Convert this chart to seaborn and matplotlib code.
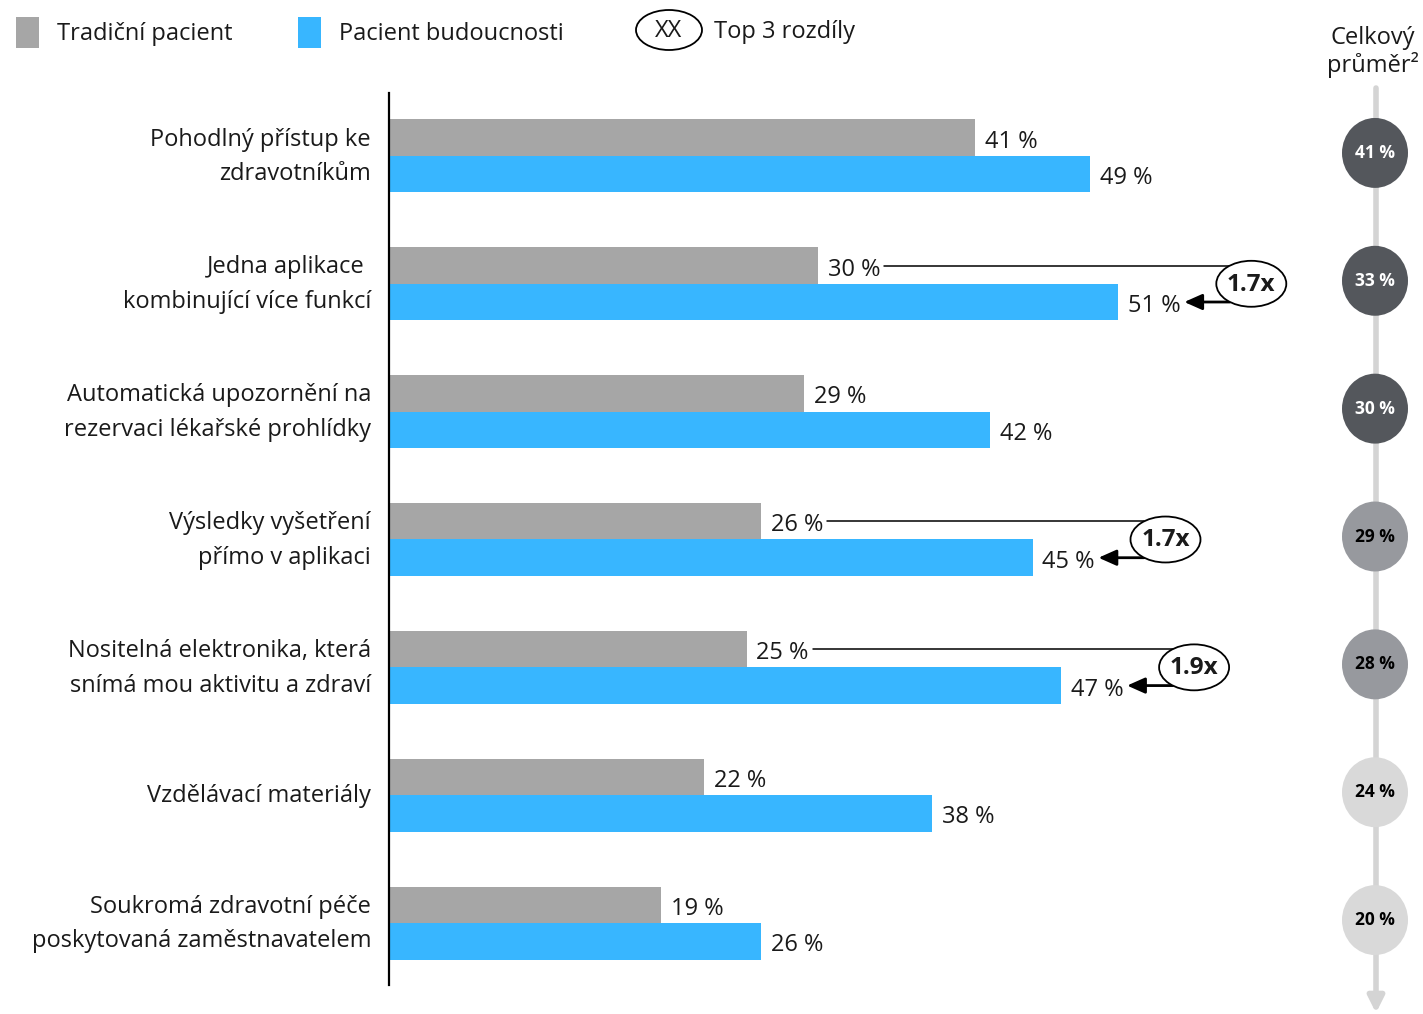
import matplotlib
matplotlib.use("Agg")
import matplotlib.pyplot as plt
from matplotlib.patches import Ellipse, Rectangle
import seaborn as sns
import pandas as pd
import numpy as np

# ---------------- data ----------------
categories = [
    "Pohodlný přístup ke\nzdravotníkům",
    "Jedna aplikace \nkombinující více funkcí",
    "Automatická upozornění na\nrezervaci lékařské prohlídky",
    "Výsledky vyšetření\npřímo v aplikaci",
    "Nositelná elektronika, která\nsnímá mou aktivitu a zdraví",
    "Vzdělávací materiály",
    "Soukromá zdravotní péče\nposkytovaná zaměstnavatelem",
]
traditional = [41, 30, 29, 26, 25, 22, 19]
future = [49, 51, 42, 45, 47, 38, 26]
overall = [41, 33, 30, 29, 28, 24, 20]
top_idx = [1, 3, 4]
top_labels = ["1.7x", "1.7x", "1.9x"]
series_names = ["Tradiční pacient", "Pacient budoucnosti"]
legend_top = "Top 3 rozdíly"
overall_title = ["Celkový", "průměr²"]

# ---------------- style ----------------
W, H = 1423, 1014
GRAY = "#a6a6a6"
BLUE = "#38b6ff"
TXT = "#1a1a1a"
FONT = ["Open Sans", "DejaVu Sans"]
FS = 17

sns.set_theme(style="white")
plt.rcParams["font.family"] = FONT
plt.rcParams["text.color"] = TXT

fig = plt.figure(figsize=(W / 100, H / 100), dpi=100)

def fx(px):
    return px / W

def fy(py):
    return 1 - py / H

ax_left, ax_right, ax_top, ax_bot = 389, 1423, 93, 985
ax = fig.add_axes([fx(ax_left), fy(ax_bot), fx(ax_right - ax_left), (ax_bot - ax_top) / H])

df = pd.DataFrame({
    "category": categories * 2,
    "group": [series_names[0]] * len(categories) + [series_names[1]] * len(categories),
    "value": traditional + future,
})
sns.barplot(data=df, y="category", x="value", hue="group", orient="h",
            palette=[GRAY, BLUE], width=0.57, saturation=1, linewidth=0,
            legend=False, ax=ax)

px_per_unit = 14.3
xmax = (ax_right - ax_left) / px_per_unit
ax.set_xlim(0, xmax)
row_px = 128
ax.set_ylim(len(categories) - 1 + (ax_bot - 923) / row_px, -(156 - ax_top) / row_px)

ux = 1 / px_per_unit          # data units per pixel (x)
uy = 1 / row_px               # data units per pixel (y)
half = 0.57 / 4

for s in ["top", "right", "bottom"]:
    ax.spines[s].set_visible(False)
ax.spines["left"].set_color("black")
ax.spines["left"].set_linewidth(1.6)
ax.set_xticks([])
ax.set_xlabel("")
ax.set_ylabel("")
ax.set_yticks([])

# category labels
for i, c in enumerate(categories):
    ax.text(-18 * ux, i + 1 * uy, c, ha="right", va="center", fontsize=FS, linespacing=1.6,
            color=TXT, multialignment="right")

# value labels
for i, (t, f) in enumerate(zip(traditional, future)):
    ax.text(t + 10 * ux, i - half + 4 * uy, f"{t} %", va="center", ha="left", fontsize=FS, color=TXT)
    ax.text(f + 10 * ux, i + half + 4 * uy, f"{f} %", va="center", ha="left", fontsize=FS, color=TXT)

# top-3 annotations
ew, eh = 70 * ux, 46 * uy
for i, lab in zip(top_idx, top_labels):
    t, f = traditional[i], future[i]
    cx = f + 133 * ux
    cy = i
    ax.add_patch(Ellipse((cx, cy), ew, eh, facecolor="white", edgecolor="black", lw=1.3, zorder=5))
    ax.text(cx, cy + 1 * uy, lab, ha="center", va="center", fontsize=17.5, fontweight="bold", zorder=6)
    dy = -half
    xoff = (ew / 2) * np.sqrt(max(0, 1 - (dy / (eh / 2)) ** 2))
    ax.plot([t + 66 * ux, cx - xoff], [i - half, i - half], color="black", lw=1.1, zorder=4)
    dy2 = half
    xoff2 = (ew / 2) * np.sqrt(max(0, 1 - (dy2 / (eh / 2)) ** 2))
    ax.annotate("", xy=(f + 66 * ux, i + half), xytext=(cx - xoff2, i + half),
                arrowprops=dict(arrowstyle="-|>,head_length=0.9,head_width=0.4", color="black", lw=2,
                                shrinkA=0, shrinkB=0), zorder=4)

# overall average column
ox = (1375 - ax_left) * ux
ax.annotate("", xy=(fx(1376), fy(1013)), xytext=(fx(1376), fy(88)), xycoords=fig.transFigure,
            textcoords=fig.transFigure,
            arrowprops=dict(arrowstyle="-|>,head_length=0.8,head_width=0.4", color="#d4d4d4", lw=4,
                            shrinkA=0, shrinkB=0), zorder=1)
for i, v in enumerate(overall):
    if v >= 30:
        fc, tc = "#54575c", "white"
    elif v >= 25:
        fc, tc = "#97999e", "black"
    else:
        fc, tc = "#d9d9d9", "black"
    ax.add_patch(Ellipse((ox, i - 3 * uy), 66 * ux, 70 * uy, facecolor=fc, edgecolor="none", zorder=3, clip_on=False))
    ax.text(ox, i - 3 * uy, f"{v} %", ha="center", va="center", fontsize=12.5, fontweight="bold", color=tc, zorder=4)

fig.text(fx(1373), fy(38), overall_title[0], ha="center", va="center", fontsize=FS)
fig.text(fx(1373), fy(65), overall_title[1], ha="center", va="center", fontsize=FS)

# legend
fig.patches.append(Rectangle((fx(16), fy(48)), fx(23), 31 / H, transform=fig.transFigure, facecolor=GRAY, edgecolor="none"))
fig.text(fx(57), fy(34), series_names[0], ha="left", va="center", fontsize=FS)
fig.patches.append(Rectangle((fx(298), fy(48)), fx(23), 31 / H, transform=fig.transFigure, facecolor=BLUE, edgecolor="none"))
fig.text(fx(339), fy(34), series_names[1], ha="left", va="center", fontsize=FS)
fig.patches.append(Ellipse((fx(669), fy(30)), fx(66), 40 / H, transform=fig.transFigure, facecolor="white", edgecolor="black", lw=1.3))
fig.text(fx(669), fy(31), "XX", ha="center", va="center", fontsize=17)
fig.text(fx(714), fy(32), legend_top, ha="left", va="center", fontsize=FS)

fig.savefig("out.png", dpi=100)
